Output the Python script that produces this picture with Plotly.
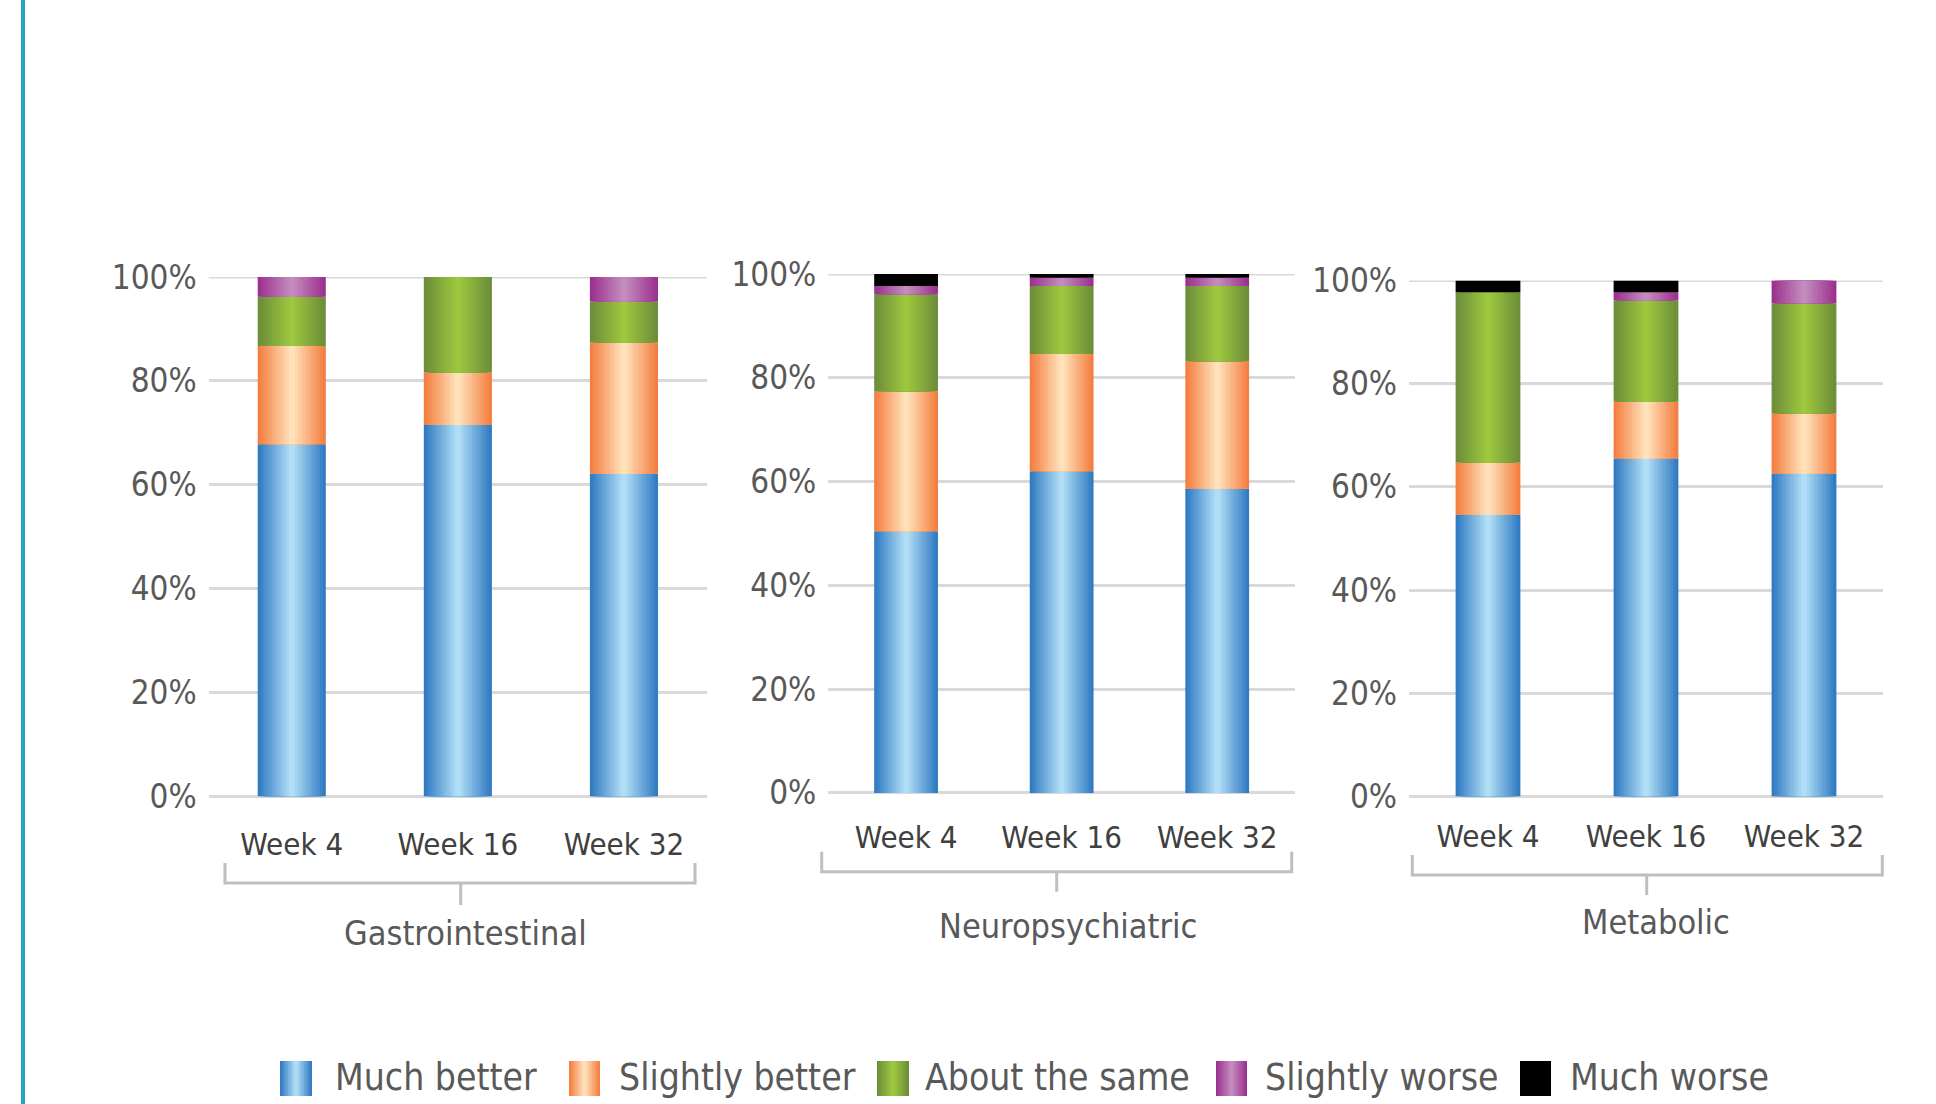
import plotly.graph_objects as go

# ---------------- data (percent of patients) ----------------
weeks = ["Week 4", "Week 16", "Week 32"]
systems = ["Gastrointestinal", "Neuropsychiatric", "Metabolic"]
series_names = ["Much better", "Slightly better", "About the same", "Slightly worse", "Much worse"]

# values ordered: Gastrointestinal (W4, W16, W32), Neuropsychiatric (...), Metabolic (...)
much_better     = [67.8, 71.5, 62.1, 50.4, 62.0, 58.6, 54.6, 65.5, 62.6]
slightly_better = [18.9, 10.1, 25.3, 27.0, 22.6, 24.6, 10.1, 11.0, 11.6]
about_same      = [9.5, 18.4, 7.9, 18.7, 13.1, 14.5, 33.0, 19.6, 21.4]
slightly_worse  = [3.8, 0.0, 4.7, 1.6, 1.6, 1.6, 0.0, 1.6, 4.4]
much_worse      = [0.0, 0.0, 0.0, 2.3, 0.7, 0.7, 2.3, 2.3, 0.0]

y_tick_vals = [0, 20, 40, 60, 80, 100]
y_tick_text = ["0%", "20%", "40%", "60%", "80%", "100%"]

# ---------------- styling ----------------
W, H = 1936, 1104
FONT = "DejaVu Sans Condensed, Liberation Sans, sans-serif"
edge_colors = ["#2b77c0", "#f47a3c", "#6b8b3a", "#9a2d8d", "#000000"]
center_colors = ["#b6e2f8", "#ffe6bf", "#9fca3e", "#c590c0", "#000000"]
GRID = "#d9d9d9"
N_LAYERS = 12
BAR_W = 0.41


def hex2rgb(h):
    h = h.lstrip("#")
    return tuple(int(h[i:i + 2], 16) for i in (0, 2, 4))


def mix(c1, c2, t):
    a, b = hex2rgb(c1), hex2rgb(c2)
    return "rgb(%d,%d,%d)" % tuple(round(a[i] + (b[i] - a[i]) * t) for i in range(3))


def px(x):
    return x / W


def py(y):
    return 1 - y / H


fig = go.Figure()

all_series = [much_better, slightly_better, about_same, slightly_worse, much_worse]

for p in range(3):
    xa = "x" if p == 0 else "x%d" % (p + 1)
    ya = "y" if p == 0 else "y%d" % (p + 1)
    vals = [s[3 * p:3 * p + 3] for s in all_series]
    base = [0.0, 0.0, 0.0]
    for si, v in enumerate(vals):
        solid = edge_colors[si] == center_colors[si]
        n = 1 if solid else N_LAYERS
        for li in range(n):
            t = (li + 0.5) / n if not solid else 0
            frac = 1 - li / n
            fig.add_trace(go.Bar(
                x=weeks, y=v, base=list(base),
                width=BAR_W * frac,
                marker=dict(color=mix(edge_colors[si], center_colors[si], t), line=dict(width=0)),
                name=series_names[si], showlegend=False,
                hoverinfo="skip" if li > 0 else "x+y+name",
                xaxis=xa, yaxis=ya,
            ))
        base = [base[i] + v[i] for i in range(3)]

# axes domains (pixel measured)
x_doms = [(208.7, 707.0), (828.3, 1295.0), (1409.0, 1883.0)]
y_doms = [(277.0, 796.4), (274.0, 792.9), (280.5, 796.4)]
x_standoff = [27, 23, 19]

layout = dict(
    width=W, height=H,
    margin=dict(l=0, r=0, t=0, b=0, autoexpand=False),
    paper_bgcolor="white", plot_bgcolor="white",
    barmode="overlay",
    font=dict(family=FONT, color="#595959"),
    showlegend=False,
)
for p in range(3):
    sx = "xaxis" if p == 0 else "xaxis%d" % (p + 1)
    sy = "yaxis" if p == 0 else "yaxis%d" % (p + 1)
    xa = "x" if p == 0 else "x%d" % (p + 1)
    ya = "y" if p == 0 else "y%d" % (p + 1)
    layout[sx] = dict(
        domain=[px(x_doms[p][0]), px(x_doms[p][1])],
        anchor=ya, type="category", categoryorder="array", categoryarray=weeks,
        range=[-0.5, 2.5], showgrid=False, showline=False, zeroline=False, ticks="",
        tickfont=dict(size=31, color="#404040", family=FONT),
        ticklabelstandoff=x_standoff[p], fixedrange=True, automargin=False,
    )
    layout[sy] = dict(
        domain=[py(y_doms[p][1]), py(y_doms[p][0])],
        anchor=xa, range=[0, 100], tickmode="array",
        tickvals=y_tick_vals, ticktext=y_tick_text,
        showgrid=True, gridcolor=GRID, gridwidth=3,
        zeroline=True, zerolinecolor=GRID, zerolinewidth=3,
        showline=False, ticks="",
        tickfont=dict(size=33, color="#595959", family=FONT),
        ticklabelstandoff=11, fixedrange=True, automargin=False,
    )
fig.update_layout(**layout)

shapes = []
# top (100%) gridline, which plotly omits at the range edge
for p in range(3):
    xa = "x" if p == 0 else "x%d" % (p + 1)
    ya = "y" if p == 0 else "y%d" % (p + 1)
    shapes.append(dict(type="line", xref=xa + " domain", yref=ya, x0=0, x1=1,
                       y0=y_tick_vals[-1], y1=y_tick_vals[-1], layer="below",
                       line=dict(color=GRID, width=3)))

# teal vertical rule on the left
shapes.append(dict(type="line", xref="paper", yref="paper", x0=px(23), x1=px(23), y0=0, y1=1,
                   line=dict(color="#21a6c8", width=4)))

# category brackets
brackets = [(225, 695, 863, 883, 460.7, 905), (821.7, 1291.7, 851.7, 871.7, 1056.7, 891.7),
            (1412.3, 1882.3, 855, 875, 1646.7, 895)]
bcol = dict(color="#bfbfbf", width=3)
for (l, r, top, bot, cx, tick) in brackets:
    shapes.append(dict(type="path", xref="paper", yref="paper",
                       path="M%f,%f L%f,%f L%f,%f L%f,%f" % (px(l), py(top), px(l), py(bot),
                                                               px(r), py(bot), px(r), py(top)),
                       line=bcol))
    shapes.append(dict(type="line", xref="paper", yref="paper", x0=px(cx), x1=px(cx),
                       y0=py(bot), y1=py(tick), line=bcol))

annotations = []
cat_pos = [(465.9, 933.3), (1068.3, 925.7), (1656.3, 921.7)]
for name, (cx, cy) in zip(systems, cat_pos):
    annotations.append(dict(text=name, xref="paper", yref="paper", x=px(cx), y=py(cy),
                            xanchor="center", yanchor="middle", showarrow=False,
                            font=dict(size=34, color="#595959", family=FONT)))

# manual legend (gradient swatches)
leg_markers = [(280, 312), (569, 600), (877, 909), (1216, 1247), (1520, 1551)]
leg_text_x = [333, 617, 923, 1263, 1568]
leg_top, leg_bot, leg_cy = 1061, 1096, 1077.5
for si, ((x0, x1), tx) in enumerate(zip(leg_markers, leg_text_x)):
    solid = edge_colors[si] == center_colors[si]
    n = 1 if solid else 8
    wdt = x1 - x0
    for li in range(n):
        t = (li + 0.5) / n if not solid else 0
        inset = wdt * li / (2 * n)
        shapes.append(dict(type="rect", xref="paper", yref="paper",
                           x0=px(x0 + inset), x1=px(x1 - inset), y0=py(leg_bot), y1=py(leg_top),
                           fillcolor=mix(edge_colors[si], center_colors[si], t), line=dict(width=0)))
    annotations.append(dict(text=series_names[si], xref="paper", yref="paper", x=px(tx), y=py(leg_cy),
                            xanchor="left", yanchor="middle", showarrow=False,
                            font=dict(size=37, color="#595959", family=FONT)))

fig.update_layout(shapes=shapes, annotations=annotations)
fig.write_html(
    "out.html",
    config={"displayModeBar": False},
    post_script="document.body.style.margin='0';document.body.style.overflow='hidden';",
)
